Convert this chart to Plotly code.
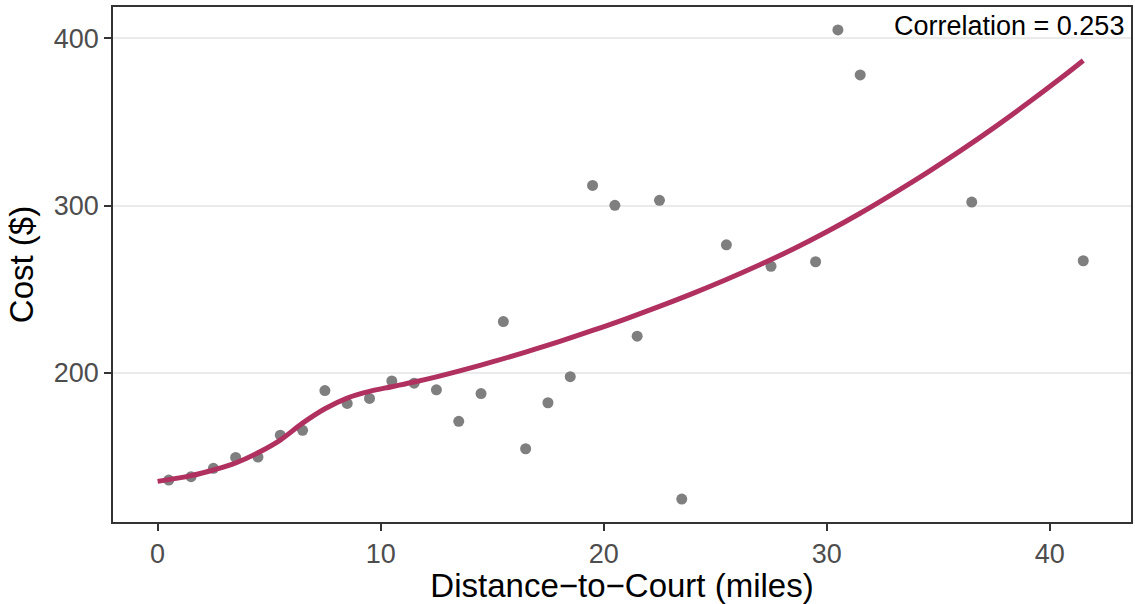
import plotly.graph_objects as go

# Observed court-trip costs by distance
distance_miles = [0.5, 1.5, 2.5, 3.5, 4.5, 5.5, 6.5, 7.5, 8.5, 9.5, 10.5, 11.5,
                  12.5, 13.5, 14.5, 15.5, 16.5, 17.5, 18.5, 19.5, 20.5, 21.5,
                  22.5, 23.5, 25.5, 27.5, 29.5, 30.5, 31.5, 36.5, 41.5]
cost_dollars = [136.0, 138.0, 143.0, 149.5, 149.7, 162.8, 165.7, 189.5, 181.8,
                184.8, 195.2, 193.9, 189.9, 171.1, 187.7, 230.7, 154.7, 182.2,
                197.8, 312.1, 300.2, 222.0, 303.2, 124.6, 276.6, 263.8, 266.5,
                405.1, 378.2, 302.2, 267.1]

# Smoothed trend (fitted cost along distance)
trend_x = [0.0, 1.5, 2.5, 3.5, 4.5, 5.5, 6.5, 7.5, 8.5, 9.5, 10.5, 11.5, 12.5,
           13.5, 15.0, 16.5, 18.0, 19.5, 21.0, 22.5, 24.0, 25.5, 27.0, 28.5,
           30.0, 31.5, 33.0, 34.5, 36.0, 37.5, 39.0, 40.5, 41.5]
trend_y = [135.2, 138.6, 142.0, 146.2, 152.3, 159.9, 170.0, 178.6, 185.0,
           189.0, 191.8, 194.6, 197.7, 201.1, 206.6, 212.5, 218.7, 225.4,
           232.4, 239.8, 247.6, 255.9, 264.7, 274.1, 284.4, 295.5, 307.4,
           319.8, 332.9, 346.7, 361.2, 376.3, 386.8]

x_ticks = [0, 10, 20, 30, 40]
y_ticks = [200, 300, 400]
correlation_label = "Correlation = 0.253"

FONT = "Liberation Sans, Arial, Helvetica, sans-serif"

fig = go.Figure()
fig.add_trace(go.Scatter(
    x=distance_miles, y=cost_dollars, mode="markers",
    marker=dict(color="#7F7F7F", size=11, line=dict(width=0)),
    showlegend=False, hoverinfo="x+y",
))
fig.add_trace(go.Scatter(
    x=trend_x, y=trend_y, mode="lines",
    line=dict(color="#B03060", width=5, shape="spline", smoothing=1.0),
    showlegend=False, hoverinfo="skip",
))

axis_common = dict(
    showline=True, mirror=True, linecolor="#333333", linewidth=1.5,
    ticks="outside", ticklen=7, tickwidth=1.5, tickcolor="#333333",
    tickfont=dict(family=FONT, size=27, color="#4D4D4D"),
    zeroline=False,
)

fig.update_layout(
    width=1135, height=604,
    margin=dict(l=113, r=2, t=7, b=82),
    paper_bgcolor="white", plot_bgcolor="white",
    font=dict(family=FONT),
    xaxis=dict(
        range=[-2.0, 43.64], tickvals=x_ticks, showgrid=False,
        title=dict(text="Distance\u2212to\u2212Court (miles)",
                   font=dict(family=FONT, size=33, color="black"), standoff=8),
        **axis_common,
    ),
    yaxis=dict(
        range=[110.9, 418.8], tickvals=y_ticks,
        showgrid=True, gridcolor="#EBEBEB", gridwidth=1.5,
        title=dict(text="Cost ($)",
                   font=dict(family=FONT, size=33, color="black"), standoff=10),
        **axis_common,
    ),
    annotations=[dict(
        text=correlation_label, xref="paper", yref="paper",
        x=0.995, y=0.963, xanchor="right", yanchor="middle",
        showarrow=False, font=dict(family=FONT, size=27, color="black"),
    )],
)

fig.write_html("out.html")
